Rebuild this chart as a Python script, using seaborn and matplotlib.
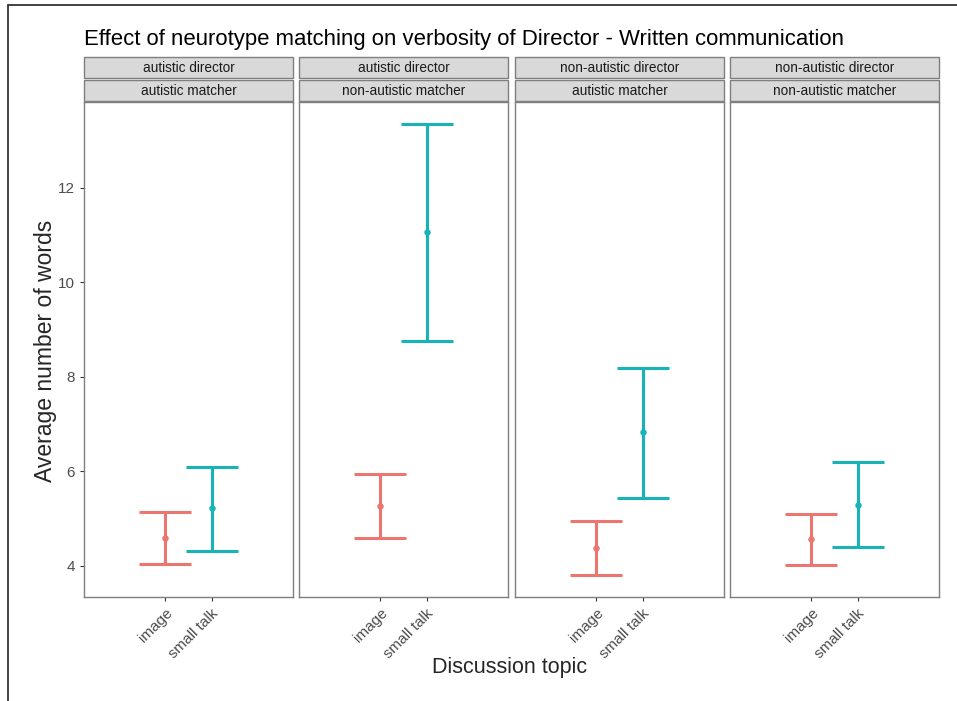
import numpy as np
import pandas as pd
import matplotlib
matplotlib.use("Agg")
import matplotlib.pyplot as plt
import seaborn as sns
from matplotlib.patches import Rectangle
from matplotlib.lines import Line2D

# panel labels
directors = ["autistic director", "autistic director", "non-autistic director", "non-autistic director"]
matchers = ["autistic matcher", "non-autistic matcher", "autistic matcher", "non-autistic matcher"]
topics = ["image", "small talk"]

# means and interval bounds (panel x topic)
means = [[4.59, 5.23], [5.27, 11.07], [4.38, 6.84], [4.57, 5.29]]
lower = [[4.04, 4.32], [4.59, 8.76], [3.81, 5.44], [4.02, 4.40]]
upper = [[5.14, 6.10], [5.95, 13.35], [4.95, 8.19], [5.10, 6.20]]

colors = {"image": "#EC766F", "small talk": "#17B4B7"}

rows = []
for p in range(4):
    for t, topic in enumerate(topics):
        rows.append({"panel": p, "topic": topic, "mean": means[p][t],
                     "lo": lower[p][t], "hi": upper[p][t]})
df = pd.DataFrame(rows)

sns.set_theme(style="white")
plt.rcParams["font.family"] = ["Liberation Sans", "DejaVu Sans"]

fig = plt.figure(figsize=(9.57, 7.01), dpi=100)
W, H = 957, 701
lefts = [84, 299, 515, 730]
pw = 209
top_px, bot_px = 102, 597

for p in range(4):
    ax = fig.add_axes([lefts[p] / W, 1 - bot_px / H, pw / W, (bot_px - top_px) / H])
    sub = df[df.panel == p]
    sns.pointplot(data=sub, x="topic", y="mean", hue="topic", order=topics,
                  palette=colors, linestyle="none", markers="o", markersize=2.6,
                  errorbar=None, legend=False, ax=ax)
    for i, r in enumerate(sub.itertuples()):
        ax.errorbar(i, r.mean, yerr=[[r.mean - r.lo], [r.hi - r.mean]],
                    fmt="none", ecolor=colors[r.topic], elinewidth=2.2,
                    capsize=18.5, capthick=2.2)
    ax.set_xlim(-1.77, 2.77)
    ax.set_ylim(3.34, 13.82)
    ax.set_yticks([4, 6, 8, 10, 12])
    ax.set_xlabel("")
    ax.set_ylabel("")
    ax.tick_params(axis="both", length=3, width=0.8, color="#333333",
                   labelsize=11, labelcolor="#4D4D4D", bottom=True, left=(p == 0))
    if p > 0:
        ax.set_yticklabels([])
    ax.set_xticks([0, 1])
    ax.set_xticklabels(topics, rotation=45, ha="right", va="top",
                       rotation_mode="anchor")
    for s in ax.spines.values():
        s.set_color("#7F7F7F")
        s.set_linewidth(1.0)
    # facet strips
    sh = 21 / (bot_px - top_px)
    for k, (lab, y0) in enumerate([(matchers[p], 1.002), (directors[p], 1.048)]):
        ax.add_patch(Rectangle((0, y0), 1, sh, transform=ax.transAxes,
                               facecolor="#D9D9D9", edgecolor="#7F7F7F",
                               linewidth=1.0, clip_on=False))
        ax.text(0.5, y0 + sh / 2, lab, transform=ax.transAxes, ha="center",
                va="center", fontsize=9.8, color="#1A1A1A")

fig.text(84 / W, 1 - 40 / H, "Effect of neurotype matching on verbosity of Director - Written communication",
         fontsize=15.9, ha="left", va="center", color="black")
fig.text(46 / W, 1 - 351 / H, "Average number of words", rotation=90,
         fontsize=16.5, ha="center", va="center")
fig.text(510 / W, 1 - 668 / H, "Discussion topic", fontsize=15.5,
         ha="center", va="center")

# outer frame lines (left and top)
fig.add_artist(Line2D([8 / W, 8 / W], [0, 1 - 5 / H], transform=fig.transFigure,
                      color="#333333", linewidth=1.3))
fig.add_artist(Line2D([8 / W, 1], [1 - 5 / H, 1 - 5 / H], transform=fig.transFigure,
                      color="#333333", linewidth=1.3))

fig.savefig("out.png", dpi=100)
